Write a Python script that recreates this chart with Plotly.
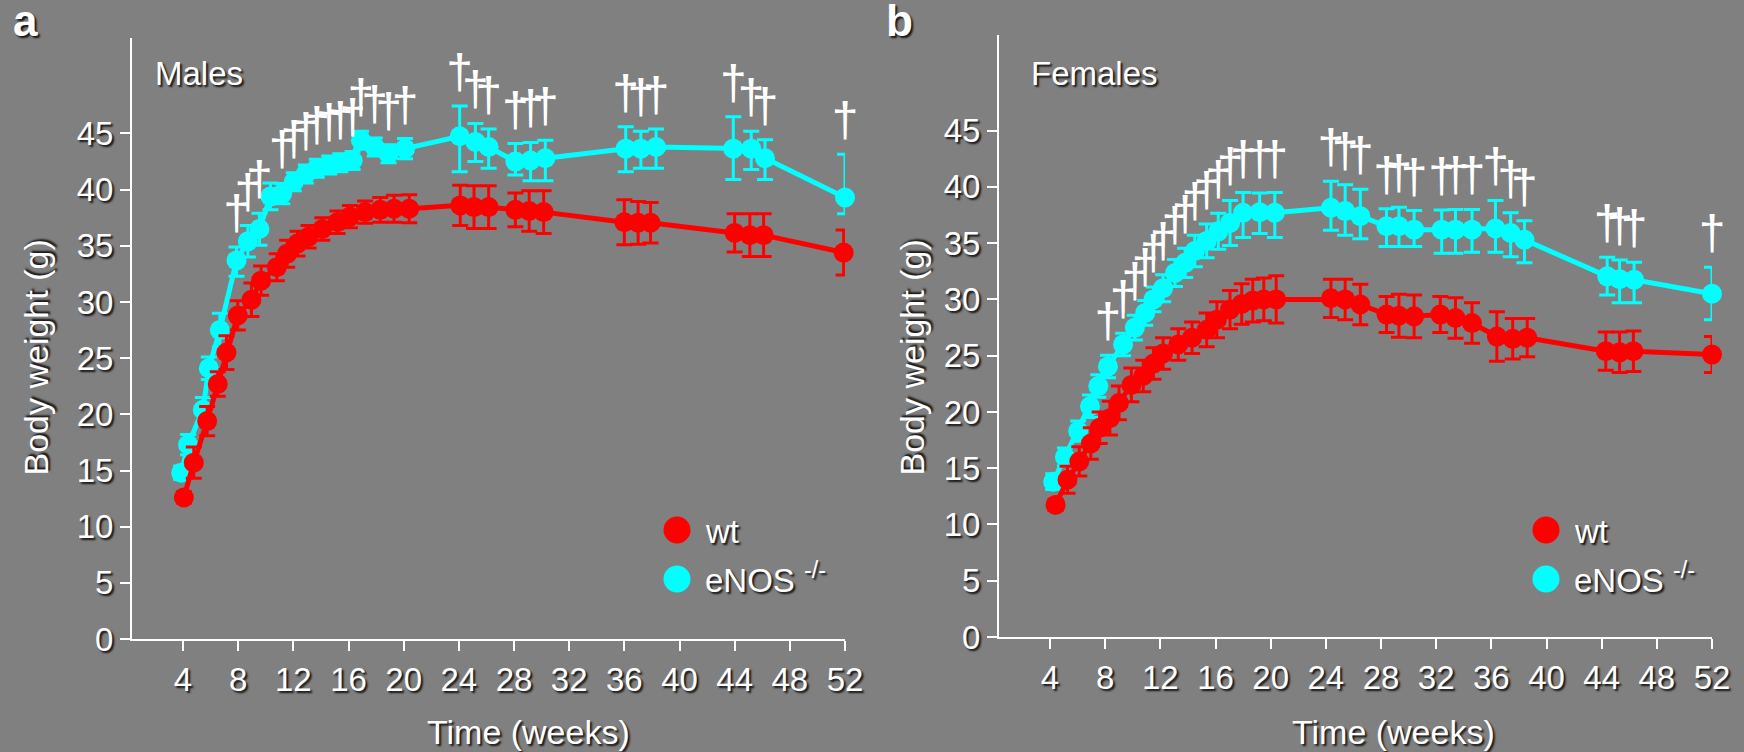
import plotly.graph_objects as go

W, H = 1744, 752

# ---------------- data ----------------
# Males, wild type
m_wt_weeks = [4.06, 4.78, 5.75, 6.52, 7.15, 7.97, 8.96, 9.66, 10.8, 11.55, 12.3, 13.1, 14.1, 15.2,
              16.1, 17.2, 18.3, 19.3, 20.4, 24.1, 25.1, 26.16, 28.1, 29.1, 30.15, 36.0, 37.0, 37.9,
              44.0, 45.1, 46.1, 51.9]
m_wt_mean = [12.6, 15.7, 19.4, 22.7, 25.5, 28.8, 30.2, 31.9, 33.1, 34.3, 35.2, 35.8, 36.5, 37.1,
             37.6, 38.0, 38.2, 38.3, 38.3, 38.6, 38.45, 38.45, 38.2, 38.1, 38.0, 37.1, 37.05, 37.05,
             36.15, 35.95, 35.95, 34.4]
m_wt_err = [0.5, 1.4, 1.3, 1.1, 1.5, 1.3, 1.5, 1.3, 1.2, 1.2, 1.1, 1.0, 1.0, 1.0,
            1.0, 1.0, 1.1, 1.2, 1.25, 1.8, 1.9, 1.9, 1.5, 1.8, 1.9, 2.0, 1.9, 1.8,
            1.7, 1.9, 1.9, 2.0]

# Males, eNOS -/-
m_ko_weeks = [3.87, 4.37, 5.44, 5.87, 6.67, 7.88, 8.70, 9.54, 10.34, 11.19, 12.03, 12.9, 13.7, 14.6,
              15.4, 16.3, 16.9, 17.9, 18.9, 20.1, 24.06, 25.2, 26.16, 28.1, 29.2, 30.27, 36.1, 37.2,
              38.3, 43.9, 45.2, 46.2, 52.0]
m_ko_mean = [14.8, 17.3, 20.4, 24.1, 27.5, 33.7, 35.4, 36.5, 39.4, 39.65, 40.7, 41.4, 41.9, 42.2,
             42.4, 42.6, 44.4, 43.8, 43.2, 43.65, 44.75, 44.25, 43.8, 42.5, 42.6, 42.8, 43.65, 43.65,
             43.8, 43.65, 43.65, 42.8, 39.3]
m_ko_err_plus = [0.6, 0.9, 1.1, 1.0, 1.5, 1.2, 1.4, 1.4, 1.2, 0.9, 0.8, 0.8, 0.8, 0.8,
                 0.8, 0.8, 0.8, 0.8, 0.8, 0.9, 2.7, 1.65, 1.6, 1.6, 1.6, 1.6, 1.95, 1.55,
                 1.6, 2.85, 1.55, 1.65, 3.85]
m_ko_err_minus = [0.6, 0.9, 1.1, 1.0, 1.5, 1.4, 1.4, 1.45, 1.2, 0.9, 0.8, 0.8, 0.8, 0.8,
                  0.8, 0.8, 0.8, 0.8, 0.8, 0.9, 3.15, 1.75, 1.9, 1.2, 1.8, 2.0, 2.05, 1.75,
                  1.9, 2.75, 1.85, 1.9, 1.45]
m_ko_signif = [0, 0, 0, 0, 0, 1, 1, 1, 0, 1, 1, 1, 1, 1,
               1, 1, 1, 1, 1, 1, 1, 1, 1, 1, 1, 1, 1, 1,
               1, 1, 1, 1, 1]

# Females, wild type
f_wt_weeks = [4.40, 5.27, 6.12, 6.96, 7.6, 8.34, 9.0, 9.9, 10.76, 11.5, 12.2, 13.3, 14.3, 15.36,
              16.1, 17.05, 17.9, 18.7, 19.5, 20.4, 24.37, 25.4, 26.5, 28.4, 29.3, 30.4, 32.3, 33.4,
              34.6, 36.4, 37.55, 38.6, 44.3, 45.3, 46.3, 52.0]
f_wt_mean = [11.74, 13.97, 15.6, 17.2, 18.6, 19.45, 20.8, 22.4, 23.2, 24.3, 25.2, 26.0, 26.6, 27.3,
             28.2, 29.1, 29.6, 29.9, 30.0, 30.0, 30.1, 30.0, 29.55, 28.65, 28.55, 28.5, 28.65, 28.35,
             27.9, 26.7, 26.5, 26.6, 25.4, 25.3, 25.4, 25.1]
f_wt_err = [0.5, 1.2, 1.3, 1.4, 1.4, 1.5, 1.5, 1.5, 1.4, 1.4, 1.4, 1.4, 1.4, 1.5,
            1.6, 1.7, 1.8, 1.9, 1.9, 2.1, 1.7, 1.8, 1.8, 1.6, 1.9, 1.9, 1.6, 1.8,
            1.8, 2.2, 1.8, 1.7, 1.7, 1.8, 1.8, 1.6]

# Females, eNOS -/-
f_ko_weeks = [4.23, 5.08, 6.04, 6.9, 7.5, 8.2, 9.3, 10.15, 10.9, 11.5, 12.2, 13.06, 13.8, 14.5,
              15.36, 16.2, 17.05, 18.0, 19.2, 20.3, 24.37, 25.4, 26.5, 28.4, 29.3, 30.4, 32.4, 33.4,
              34.6, 36.3, 37.4, 38.4, 44.4, 45.3, 46.35, 52.0]
f_ko_mean = [13.8, 16.0, 18.3, 20.5, 22.3, 24.05, 26.0, 27.5, 28.8, 30.0, 31.0, 32.35, 33.25, 34.3,
             35.2, 36.05, 36.8, 37.7, 37.75, 37.7, 38.15, 37.85, 37.4, 36.5, 36.5, 36.2, 36.2, 36.2,
             36.2, 36.3, 35.9, 35.3, 32.05, 31.8, 31.75, 30.5]
f_ko_err_plus = [0.7, 0.8, 0.9, 1.0, 1.0, 1.0, 1.0, 1.1, 1.1, 1.1, 1.2, 1.2, 1.3, 1.4,
                 1.5, 1.6, 2.0, 1.8, 1.7, 1.8, 2.35, 2.35, 2.4, 1.55, 1.7, 1.7, 1.75, 1.8,
                 1.8, 2.5, 1.8, 1.7, 1.7, 1.7, 1.55, 2.35]
f_ko_err_minus = [0.7, 0.8, 0.9, 1.0, 1.0, 1.0, 1.0, 1.1, 1.1, 1.1, 1.2, 1.2, 1.3, 1.4,
                  1.5, 1.6, 2.0, 2.2, 1.9, 2.2, 2.0, 2.15, 2.0, 1.8, 1.8, 1.5, 2.1, 2.1,
                  2.0, 2.1, 2.1, 2.05, 1.65, 2.1, 2.05, 2.3]
f_ko_signif = [0, 0, 0, 0, 0, 1, 1, 1, 1, 1, 1, 1, 1, 1,
               1, 1, 1, 1, 1, 1, 1, 1, 1, 1, 1, 1, 1, 1,
               1, 1, 1, 1, 1, 1, 1, 1]

x_ticks = [4, 8, 12, 16, 20, 24, 28, 32, 36, 40, 44, 48, 52]
y_ticks = [0, 5, 10, 15, 20, 25, 30, 35, 40, 45]
series_names = ["wt", "eNOS <sup>-/-</sup>"]
panel_titles = ["Males", "Females"]
panel_letters = ["a", "b"]
x_title = "Time (weeks)"
y_title = "Body weight (g)"

# ---------------- styling ----------------
BG = "#808080"
RED = "#ff0000"
CYAN = "#00ffff"
WHITE = "#ffffff"
FONT = "Liberation Sans, Arial, Helvetica, sans-serif"
DAGGER_FONT = "Liberation Sans Narrow, Liberation Sans, Arial, sans-serif"
SHADOW = "2px 2px 2px rgba(0,0,0,0.85)"


def pxx(p):
    return p / W


def pxy(p):
    return 1 - p / H


fig = go.Figure()

panels = [
    dict(xa="x", ya="y",
         wt=(m_wt_weeks, m_wt_mean, m_wt_err, m_wt_err),
         ko=(m_ko_weeks, m_ko_mean, m_ko_err_plus, m_ko_err_minus),
         sig=m_ko_signif),
    dict(xa="x2", ya="y2",
         wt=(f_wt_weeks, f_wt_mean, f_wt_err, f_wt_err),
         ko=(f_ko_weeks, f_ko_mean, f_ko_err_plus, f_ko_err_minus),
         sig=f_ko_signif),
]

for p in panels:
    for key, color in (("ko", CYAN), ("wt", RED)):
        wk, mean, ep, em = p[key]
        fig.add_trace(go.Scatter(
            x=wk, y=mean, xaxis=p["xa"], yaxis=p["ya"],
            mode="lines+markers",
            line=dict(color=color, width=5),
            marker=dict(color=color, size=20, line=dict(width=0)),
            error_y=dict(type="data", array=ep, arrayminus=em, symmetric=False,
                         color=color, thickness=3, width=8),
            showlegend=False, hoverinfo="skip", cliponaxis=False,
        ))
    # significance daggers above the eNOS error bars
    wk, mean, ep, em = p["ko"]
    dx = [w for w, s in zip(wk, p["sig"]) if s]
    dy = [m + e for m, e, s in zip(mean, ep, p["sig"]) if s]
    fig.add_trace(go.Scatter(
        x=dx, y=dy, xaxis=p["xa"], yaxis=p["ya"],
        mode="markers+text", text=["\u2020"] * len(dx), textposition="top center",
        marker=dict(size=8, color="rgba(0,0,0,0)"),
        textfont=dict(family=DAGGER_FONT, size=48, color=WHITE),
        showlegend=False, hoverinfo="skip", cliponaxis=False,
    ))

axis_common = dict(
    showline=True, linecolor=WHITE, linewidth=2,
    ticks="outside", ticklen=10, tickwidth=2, tickcolor=WHITE,
    showgrid=False, zeroline=False, automargin=False,
    tickfont=dict(family=FONT, size=33, color=WHITE, shadow=SHADOW),
)

fig.update_layout(
    width=W, height=H, autosize=False,
    paper_bgcolor=BG, plot_bgcolor=BG,
    margin=dict(l=0, r=0, t=0, b=0, pad=0, autoexpand=False),
    font=dict(family=FONT, color=WHITE),
    xaxis=dict(domain=[pxx(132), pxx(845)], range=[0.3, 52], tickvals=x_ticks,
               anchor="y", **axis_common),
    yaxis=dict(domain=[pxy(639), pxy(38)], range=[0, 53.5], tickvals=y_ticks,
               anchor="x", **axis_common),
    xaxis2=dict(domain=[pxx(999), pxx(1712)], range=[0.3, 52], tickvals=x_ticks,
                anchor="y2", **axis_common),
    yaxis2=dict(domain=[pxy(637), pxy(35)], range=[0, 53.5], tickvals=y_ticks,
                anchor="x2", **axis_common),
    showlegend=False,
)

annotations = []
shapes = []
txt_font = dict(family=FONT, size=33, color=WHITE, shadow=SHADOW)
title_font = dict(family=FONT, size=34, color=WHITE, shadow=SHADOW)

offsets = [0, 869]
for i, off in enumerate(offsets):
    # panel letter
    annotations.append(dict(
        text="<b>%s</b>" % panel_letters[i], xref="paper", yref="paper",
        x=pxx(11 + off + (4 if i else 0)), y=pxy(47), xanchor="left", yanchor="bottom",
        showarrow=False, font=dict(family=FONT, size=44, color=WHITE, shadow=SHADOW)))
    # panel title
    annotations.append(dict(
        text=panel_titles[i], xref="paper", yref="paper",
        x=pxx(153 + off + (7 if i else 0)), y=pxy(94), xanchor="left", yanchor="bottom",
        showarrow=False, font=txt_font))
    # axis titles
    annotations.append(dict(
        text=y_title, xref="paper", yref="paper", textangle=-90,
        x=pxx(35 + off + 7 * i), y=pxy(357.5), xanchor="center", yanchor="middle",
        showarrow=False, font=title_font))
    annotations.append(dict(
        text=x_title, xref="paper", yref="paper",
        x=pxx(528.5 + off - 4 * i), y=pxy(731.5), xanchor="center", yanchor="middle",
        showarrow=False, font=title_font))
    # legend
    for j, (name, color, cy) in enumerate(((series_names[0], RED, 530),
                                           (series_names[1], CYAN, 579))):
        cx = 677 + off
        r = 13.5
        shapes.append(dict(type="circle", xref="paper", yref="paper",
                           x0=pxx(cx - r), x1=pxx(cx + r), y0=pxy(cy + r), y1=pxy(cy - r),
                           fillcolor=color, line=dict(width=0)))
        annotations.append(dict(
            text=name, xref="paper", yref="paper",
            x=pxx(703 + off), y=pxy(cy + 21.7), xanchor="left", yanchor="bottom",
            showarrow=False, font=txt_font))

fig.update_layout(annotations=annotations, shapes=shapes)

fig.write_html("out.html", config={"displayModeBar": False},
               post_script="document.body.style.margin='0';document.body.style.overflow='hidden';")
